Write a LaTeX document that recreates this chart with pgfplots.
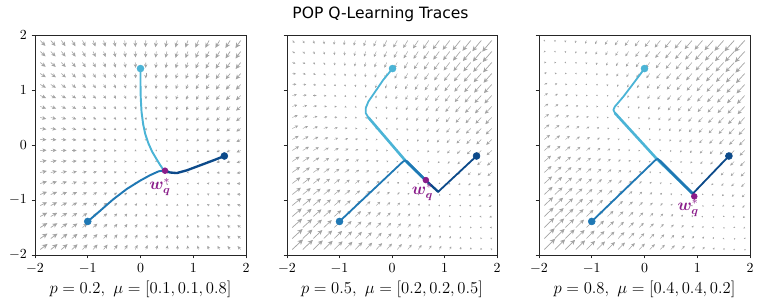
\documentclass[border=0pt]{standalone}
\usepackage{fontspec}
\usepackage{bm}
\usepackage{pgfplots}
\usepackage{pgfplotstable}
\pgfplotsset{compat=1.18}
\usetikzlibrary{arrows.meta}
\newfontfamily\titlefont{DejaVu Sans}
\definecolor{cLight}{HTML}{4BB4D6}
\definecolor{cMid}{HTML}{1F78B4}
\definecolor{cDark}{HTML}{0C4A8A}
\definecolor{cPurple}{HTML}{8A1C8A}

% quiver field: x y, then arrow components (scaled) for the three panels
\pgfplotstableread{
x y u1 v1 u2 v2 u3 v3
-1.9 -1.9 66 48 121 108 166 157
-1.7 -1.9 61 47 114 103 157 149
-1.5 -1.9 56 46 107 98 148 141
-1.3 -1.9 51 45 100 93 139 133
-1.1 -1.9 46 44 93 88 130 125
-0.9 -1.9 41 43 86 83 121 117
-0.7 -1.9 36 42 79 78 112 109
-0.5 -1.9 31 41 72 73 103 101
-0.3 -1.9 26 40 65 68 94 93
-0.1 -1.9 21 39 58 63 85 85
0.1 -1.9 16 38 51 58 76 77
0.3 -1.9 11 37 44 53 67 69
0.5 -1.9 6 36 37 48 58 61
0.7 -1.9 1 35 30 43 49 53
0.9 -1.9 -4 34 23 38 40 45
1.1 -1.9 -9 33 16 33 31 37
1.3 -1.9 -14 32 9 28 22 29
1.5 -1.9 -19 31 2 23 13 21
1.7 -1.9 -24 30 -5 18 4 13
1.9 -1.9 -29 29 -12 13 -5 5
-1.9 -1.7 65 43 116 101 158 148
-1.7 -1.7 60 42 109 96 149 140
-1.5 -1.7 55 41 102 91 140 132
-1.3 -1.7 50 40 95 86 131 124
-1.1 -1.7 45 39 88 81 122 116
-0.9 -1.7 40 38 81 76 113 108
-0.7 -1.7 35 37 74 71 104 100
-0.5 -1.7 30 36 67 66 95 92
-0.3 -1.7 25 35 60 61 86 84
-0.1 -1.7 20 34 53 56 77 76
0.1 -1.7 15 33 46 51 68 68
0.3 -1.7 10 32 39 46 59 60
0.5 -1.7 5 31 32 41 50 52
0.7 -1.7 0 30 25 36 41 44
0.9 -1.7 -5 29 18 31 32 36
1.1 -1.7 -10 28 11 26 23 28
1.3 -1.7 -15 27 4 21 14 20
1.5 -1.7 -20 26 -3 16 5 12
1.7 -1.7 -25 25 -10 11 -4 4
1.9 -1.7 -30 24 -17 6 -13 -4
-1.9 -1.5 64 38 111 94 150 139
-1.7 -1.5 59 37 104 89 141 131
-1.5 -1.5 54 36 97 84 132 123
-1.3 -1.5 49 35 90 79 123 115
-1.1 -1.5 44 34 83 74 114 107
-0.9 -1.5 39 33 76 69 105 99
-0.7 -1.5 34 32 69 64 96 91
-0.5 -1.5 29 31 62 59 87 83
-0.3 -1.5 24 30 55 54 78 75
-0.1 -1.5 19 29 48 49 69 67
0.1 -1.5 14 28 41 44 60 59
0.3 -1.5 9 27 34 39 51 51
0.5 -1.5 4 26 27 34 42 43
0.7 -1.5 -1 25 20 29 33 35
0.9 -1.5 -6 24 13 24 24 27
1.1 -1.5 -11 23 6 19 15 19
1.3 -1.5 -16 22 -1 14 6 11
1.5 -1.5 -21 21 -8 9 -3 3
1.7 -1.5 -26 20 -15 4 -12 -5
1.9 -1.5 -31 19 -22 -1 -21 -13
-1.9 -1.3 63 33 106 87 142 130
-1.7 -1.3 58 32 99 82 133 122
-1.5 -1.3 53 31 92 77 124 114
-1.3 -1.3 48 30 85 72 115 106
-1.1 -1.3 43 29 78 67 106 98
-0.9 -1.3 38 28 71 62 97 90
-0.7 -1.3 33 27 64 57 88 82
-0.5 -1.3 28 26 57 52 79 74
-0.3 -1.3 23 25 50 47 70 66
-0.1 -1.3 18 24 43 42 61 58
0.1 -1.3 13 23 36 37 52 50
0.3 -1.3 8 22 29 32 43 42
0.5 -1.3 3 21 22 27 34 34
0.7 -1.3 -2 20 15 22 25 26
0.9 -1.3 -7 19 8 17 16 18
1.1 -1.3 -12 18 1 12 7 10
1.3 -1.3 -17 17 -6 7 -2 2
1.5 -1.3 -22 16 -13 2 -11 -6
1.7 -1.3 -27 15 -20 -3 -20 -14
1.9 -1.3 -32 14 -27 -8 -29 -22
-1.9 -1.1 62 28 101 80 134 121
-1.7 -1.1 57 27 94 75 125 113
-1.5 -1.1 52 26 87 70 116 105
-1.3 -1.1 47 25 80 65 107 97
-1.1 -1.1 42 24 73 60 98 89
-0.9 -1.1 37 23 66 55 89 81
-0.7 -1.1 32 22 59 50 80 73
-0.5 -1.1 27 21 52 45 71 65
-0.3 -1.1 22 20 45 40 62 57
-0.1 -1.1 17 19 38 35 53 49
0.1 -1.1 12 18 31 30 44 41
0.3 -1.1 7 17 24 25 35 33
0.5 -1.1 2 16 17 20 26 25
0.7 -1.1 -3 15 10 15 17 17
0.9 -1.1 -8 14 3 10 8 9
1.1 -1.1 -13 13 -4 5 -1 1
1.3 -1.1 -18 12 -11 0 -10 -7
1.5 -1.1 -23 11 -18 -5 -19 -15
1.7 -1.1 -28 10 -25 -10 -28 -23
1.9 -1.1 -33 9 -32 -15 -37 -31
-1.9 -0.9 61 23 96 73 126 112
-1.7 -0.9 56 22 89 68 117 104
-1.5 -0.9 51 21 82 63 108 96
-1.3 -0.9 46 20 75 58 99 88
-1.1 -0.9 41 19 68 53 90 80
-0.9 -0.9 36 18 61 48 81 72
-0.7 -0.9 31 17 54 43 72 64
-0.5 -0.9 26 16 47 38 63 56
-0.3 -0.9 21 15 40 33 54 48
-0.1 -0.9 16 14 33 28 45 40
0.1 -0.9 11 13 26 23 36 32
0.3 -0.9 6 12 19 18 27 24
0.5 -0.9 1 11 12 13 18 16
0.7 -0.9 -4 10 5 8 9 8
0.9 -0.9 -9 9 -2 3 0 0
1.1 -0.9 -14 8 -9 -2 -9 -8
1.3 -0.9 -19 7 -16 -7 -18 -16
1.5 -0.9 -24 6 -23 -12 -27 -24
1.7 -0.9 -29 5 -30 -17 -36 -32
1.9 -0.9 -34 4 -37 -22 -45 -40
-1.9 -0.7 60 18 91 66 118 103
-1.7 -0.7 55 17 84 61 109 95
-1.5 -0.7 50 16 77 56 100 87
-1.3 -0.7 45 15 70 51 91 79
-1.1 -0.7 40 14 63 46 82 71
-0.9 -0.7 35 13 56 41 73 63
-0.7 -0.7 30 12 49 36 64 55
-0.5 -0.7 25 11 42 31 55 47
-0.3 -0.7 20 10 35 26 46 39
-0.1 -0.7 15 9 28 21 37 31
0.1 -0.7 10 8 21 16 28 23
0.3 -0.7 5 7 14 11 19 15
0.5 -0.7 0 6 7 6 10 7
0.7 -0.7 -5 5 0 1 1 -1
0.9 -0.7 -10 4 -7 -4 -8 -9
1.1 -0.7 -15 3 -14 -9 -17 -17
1.3 -0.7 -20 2 -21 -14 -26 -25
1.5 -0.7 -25 1 -28 -19 -35 -33
1.7 -0.7 -30 0 -35 -24 -44 -41
1.9 -0.7 -35 -1 -42 -29 -53 -49
-1.9 -0.5 59 13 86 59 110 94
-1.7 -0.5 54 12 79 54 101 86
-1.5 -0.5 49 11 72 49 92 78
-1.3 -0.5 44 10 65 44 83 70
-1.1 -0.5 39 9 58 39 74 62
-0.9 -0.5 34 8 51 34 65 54
-0.7 -0.5 29 7 44 29 56 46
-0.5 -0.5 24 6 37 24 47 38
-0.3 -0.5 19 5 30 19 38 30
-0.1 -0.5 14 4 23 14 29 22
0.1 -0.5 9 3 16 9 20 14
0.3 -0.5 4 2 9 4 11 6
0.5 -0.5 -1 1 2 -1 2 -2
0.7 -0.5 -6 0 -5 -6 -7 -10
0.9 -0.5 -11 -1 -12 -11 -16 -18
1.1 -0.5 -16 -2 -19 -16 -25 -26
1.3 -0.5 -21 -3 -26 -21 -34 -34
1.5 -0.5 -26 -4 -33 -26 -43 -42
1.7 -0.5 -31 -5 -40 -31 -52 -50
1.9 -0.5 -36 -6 -47 -36 -61 -58
-1.9 -0.3 58 8 81 52 102 85
-1.7 -0.3 53 7 74 47 93 77
-1.5 -0.3 48 6 67 42 84 69
-1.3 -0.3 43 5 60 37 75 61
-1.1 -0.3 38 4 53 32 66 53
-0.9 -0.3 33 3 46 27 57 45
-0.7 -0.3 28 2 39 22 48 37
-0.5 -0.3 23 1 32 17 39 29
-0.3 -0.3 18 0 25 12 30 21
-0.1 -0.3 13 -1 18 7 21 13
0.1 -0.3 8 -2 11 2 12 5
0.3 -0.3 3 -3 4 -3 3 -3
0.5 -0.3 -2 -4 -3 -8 -6 -11
0.7 -0.3 -7 -5 -10 -13 -15 -19
0.9 -0.3 -12 -6 -17 -18 -24 -27
1.1 -0.3 -17 -7 -24 -23 -33 -35
1.3 -0.3 -22 -8 -31 -28 -42 -43
1.5 -0.3 -27 -9 -38 -33 -51 -51
1.7 -0.3 -32 -10 -45 -38 -60 -59
1.9 -0.3 -37 -11 -52 -43 -69 -67
-1.9 -0.1 57 3 76 45 94 76
-1.7 -0.1 52 2 69 40 85 68
-1.5 -0.1 47 1 62 35 76 60
-1.3 -0.1 42 0 55 30 67 52
-1.1 -0.1 37 -1 48 25 58 44
-0.9 -0.1 32 -2 41 20 49 36
-0.7 -0.1 27 -3 34 15 40 28
-0.5 -0.1 22 -4 27 10 31 20
-0.3 -0.1 17 -5 20 5 22 12
-0.1 -0.1 12 -6 13 0 13 4
0.1 -0.1 7 -7 6 -5 4 -4
0.3 -0.1 2 -8 -1 -10 -5 -12
0.5 -0.1 -3 -9 -8 -15 -14 -20
0.7 -0.1 -8 -10 -15 -20 -23 -28
0.9 -0.1 -13 -11 -22 -25 -32 -36
1.1 -0.1 -18 -12 -29 -30 -41 -44
1.3 -0.1 -23 -13 -36 -35 -50 -52
1.5 -0.1 -28 -14 -43 -40 -59 -60
1.7 -0.1 -33 -15 -50 -45 -68 -68
1.9 -0.1 -38 -16 -57 -50 -77 -76
-1.9 0.1 56 -2 71 38 86 67
-1.7 0.1 51 -3 64 33 77 59
-1.5 0.1 46 -4 57 28 68 51
-1.3 0.1 41 -5 50 23 59 43
-1.1 0.1 36 -6 43 18 50 35
-0.9 0.1 31 -7 36 13 41 27
-0.7 0.1 26 -8 29 8 32 19
-0.5 0.1 21 -9 22 3 23 11
-0.3 0.1 16 -10 15 -2 14 3
-0.1 0.1 11 -11 8 -7 5 -5
0.1 0.1 6 -12 1 -12 -4 -13
0.3 0.1 1 -13 -6 -17 -13 -21
0.5 0.1 -4 -14 -13 -22 -22 -29
0.7 0.1 -9 -15 -20 -27 -31 -37
0.9 0.1 -14 -16 -27 -32 -40 -45
1.1 0.1 -19 -17 -34 -37 -49 -53
1.3 0.1 -24 -18 -41 -42 -58 -61
1.5 0.1 -29 -19 -48 -47 -67 -69
1.7 0.1 -34 -20 -55 -52 -76 -77
1.9 0.1 -39 -21 -62 -57 -85 -85
-1.9 0.3 55 -7 66 31 78 58
-1.7 0.3 50 -8 59 26 69 50
-1.5 0.3 45 -9 52 21 60 42
-1.3 0.3 40 -10 45 16 51 34
-1.1 0.3 35 -11 38 11 42 26
-0.9 0.3 30 -12 31 6 33 18
-0.7 0.3 25 -13 24 1 24 10
-0.5 0.3 20 -14 17 -4 15 2
-0.3 0.3 15 -15 10 -9 6 -6
-0.1 0.3 10 -16 3 -14 -3 -14
0.1 0.3 5 -17 -4 -19 -12 -22
0.3 0.3 0 -18 -11 -24 -21 -30
0.5 0.3 -5 -19 -18 -29 -30 -38
0.7 0.3 -10 -20 -25 -34 -39 -46
0.9 0.3 -15 -21 -32 -39 -48 -54
1.1 0.3 -20 -22 -39 -44 -57 -62
1.3 0.3 -25 -23 -46 -49 -66 -70
1.5 0.3 -30 -24 -53 -54 -75 -78
1.7 0.3 -35 -25 -60 -59 -84 -86
1.9 0.3 -40 -26 -67 -64 -93 -94
-1.9 0.5 54 -12 61 24 70 49
-1.7 0.5 49 -13 54 19 61 41
-1.5 0.5 44 -14 47 14 52 33
-1.3 0.5 39 -15 40 9 43 25
-1.1 0.5 34 -16 33 4 34 17
-0.9 0.5 29 -17 26 -1 25 9
-0.7 0.5 24 -18 19 -6 16 1
-0.5 0.5 19 -19 12 -11 7 -7
-0.3 0.5 14 -20 5 -16 -2 -15
-0.1 0.5 9 -21 -2 -21 -11 -23
0.1 0.5 4 -22 -9 -26 -20 -31
0.3 0.5 -1 -23 -16 -31 -29 -39
0.5 0.5 -6 -24 -23 -36 -38 -47
0.7 0.5 -11 -25 -30 -41 -47 -55
0.9 0.5 -16 -26 -37 -46 -56 -63
1.1 0.5 -21 -27 -44 -51 -65 -71
1.3 0.5 -26 -28 -51 -56 -74 -79
1.5 0.5 -31 -29 -58 -61 -83 -87
1.7 0.5 -36 -30 -65 -66 -92 -95
1.9 0.5 -41 -31 -72 -71 -101 -103
-1.9 0.7 53 -17 56 17 62 40
-1.7 0.7 48 -18 49 12 53 32
-1.5 0.7 43 -19 42 7 44 24
-1.3 0.7 38 -20 35 2 35 16
-1.1 0.7 33 -21 28 -3 26 8
-0.9 0.7 28 -22 21 -8 17 0
-0.7 0.7 23 -23 14 -13 8 -8
-0.5 0.7 18 -24 7 -18 -1 -16
-0.3 0.7 13 -25 0 -23 -10 -24
-0.1 0.7 8 -26 -7 -28 -19 -32
0.1 0.7 3 -27 -14 -33 -28 -40
0.3 0.7 -2 -28 -21 -38 -37 -48
0.5 0.7 -7 -29 -28 -43 -46 -56
0.7 0.7 -12 -30 -35 -48 -55 -64
0.9 0.7 -17 -31 -42 -53 -64 -72
1.1 0.7 -22 -32 -49 -58 -73 -80
1.3 0.7 -27 -33 -56 -63 -82 -88
1.5 0.7 -32 -34 -63 -68 -91 -96
1.7 0.7 -37 -35 -70 -73 -100 -104
1.9 0.7 -42 -36 -77 -78 -109 -112
-1.9 0.9 52 -22 51 10 54 31
-1.7 0.9 47 -23 44 5 45 23
-1.5 0.9 42 -24 37 0 36 15
-1.3 0.9 37 -25 30 -5 27 7
-1.1 0.9 32 -26 23 -10 18 -1
-0.9 0.9 27 -27 16 -15 9 -9
-0.7 0.9 22 -28 9 -20 0 -17
-0.5 0.9 17 -29 2 -25 -9 -25
-0.3 0.9 12 -30 -5 -30 -18 -33
-0.1 0.9 7 -31 -12 -35 -27 -41
0.1 0.9 2 -32 -19 -40 -36 -49
0.3 0.9 -3 -33 -26 -45 -45 -57
0.5 0.9 -8 -34 -33 -50 -54 -65
0.7 0.9 -13 -35 -40 -55 -63 -73
0.9 0.9 -18 -36 -47 -60 -72 -81
1.1 0.9 -23 -37 -54 -65 -81 -89
1.3 0.9 -28 -38 -61 -70 -90 -97
1.5 0.9 -33 -39 -68 -75 -99 -105
1.7 0.9 -38 -40 -75 -80 -108 -113
1.9 0.9 -43 -41 -82 -85 -117 -121
-1.9 1.1 51 -27 46 3 46 22
-1.7 1.1 46 -28 39 -2 37 14
-1.5 1.1 41 -29 32 -7 28 6
-1.3 1.1 36 -30 25 -12 19 -2
-1.1 1.1 31 -31 18 -17 10 -10
-0.9 1.1 26 -32 11 -22 1 -18
-0.7 1.1 21 -33 4 -27 -8 -26
-0.5 1.1 16 -34 -3 -32 -17 -34
-0.3 1.1 11 -35 -10 -37 -26 -42
-0.1 1.1 6 -36 -17 -42 -35 -50
0.1 1.1 1 -37 -24 -47 -44 -58
0.3 1.1 -4 -38 -31 -52 -53 -66
0.5 1.1 -9 -39 -38 -57 -62 -74
0.7 1.1 -14 -40 -45 -62 -71 -82
0.9 1.1 -19 -41 -52 -67 -80 -90
1.1 1.1 -24 -42 -59 -72 -89 -98
1.3 1.1 -29 -43 -66 -77 -98 -106
1.5 1.1 -34 -44 -73 -82 -107 -114
1.7 1.1 -39 -45 -80 -87 -116 -122
1.9 1.1 -44 -46 -87 -92 -125 -130
-1.9 1.3 50 -32 41 -4 38 13
-1.7 1.3 45 -33 34 -9 29 5
-1.5 1.3 40 -34 27 -14 20 -3
-1.3 1.3 35 -35 20 -19 11 -11
-1.1 1.3 30 -36 13 -24 2 -19
-0.9 1.3 25 -37 6 -29 -7 -27
-0.7 1.3 20 -38 -1 -34 -16 -35
-0.5 1.3 15 -39 -8 -39 -25 -43
-0.3 1.3 10 -40 -15 -44 -34 -51
-0.1 1.3 5 -41 -22 -49 -43 -59
0.1 1.3 0 -42 -29 -54 -52 -67
0.3 1.3 -5 -43 -36 -59 -61 -75
0.5 1.3 -10 -44 -43 -64 -70 -83
0.7 1.3 -15 -45 -50 -69 -79 -91
0.9 1.3 -20 -46 -57 -74 -88 -99
1.1 1.3 -25 -47 -64 -79 -97 -107
1.3 1.3 -30 -48 -71 -84 -106 -115
1.5 1.3 -35 -49 -78 -89 -115 -123
1.7 1.3 -40 -50 -85 -94 -124 -131
1.9 1.3 -45 -51 -92 -99 -133 -139
-1.9 1.5 49 -37 36 -11 30 4
-1.7 1.5 44 -38 29 -16 21 -4
-1.5 1.5 39 -39 22 -21 12 -12
-1.3 1.5 34 -40 15 -26 3 -20
-1.1 1.5 29 -41 8 -31 -6 -28
-0.9 1.5 24 -42 1 -36 -15 -36
-0.7 1.5 19 -43 -6 -41 -24 -44
-0.5 1.5 14 -44 -13 -46 -33 -52
-0.3 1.5 9 -45 -20 -51 -42 -60
-0.1 1.5 4 -46 -27 -56 -51 -68
0.1 1.5 -1 -47 -34 -61 -60 -76
0.3 1.5 -6 -48 -41 -66 -69 -84
0.5 1.5 -11 -49 -48 -71 -78 -92
0.7 1.5 -16 -50 -55 -76 -87 -100
0.9 1.5 -21 -51 -62 -81 -96 -108
1.1 1.5 -26 -52 -69 -86 -105 -116
1.3 1.5 -31 -53 -76 -91 -114 -124
1.5 1.5 -36 -54 -83 -96 -123 -132
1.7 1.5 -41 -55 -90 -101 -132 -140
1.9 1.5 -46 -56 -97 -106 -141 -148
-1.9 1.7 48 -42 31 -18 22 -5
-1.7 1.7 43 -43 24 -23 13 -13
-1.5 1.7 38 -44 17 -28 4 -21
-1.3 1.7 33 -45 10 -33 -5 -29
-1.1 1.7 28 -46 3 -38 -14 -37
-0.9 1.7 23 -47 -4 -43 -23 -45
-0.7 1.7 18 -48 -11 -48 -32 -53
-0.5 1.7 13 -49 -18 -53 -41 -61
-0.3 1.7 8 -50 -25 -58 -50 -69
-0.1 1.7 3 -51 -32 -63 -59 -77
0.1 1.7 -2 -52 -39 -68 -68 -85
0.3 1.7 -7 -53 -46 -73 -77 -93
0.5 1.7 -12 -54 -53 -78 -86 -101
0.7 1.7 -17 -55 -60 -83 -95 -109
0.9 1.7 -22 -56 -67 -88 -104 -117
1.1 1.7 -27 -57 -74 -93 -113 -125
1.3 1.7 -32 -58 -81 -98 -122 -133
1.5 1.7 -37 -59 -88 -103 -131 -141
1.7 1.7 -42 -60 -95 -108 -140 -149
1.9 1.7 -47 -61 -102 -113 -149 -157
-1.9 1.9 47 -47 26 -25 14 -14
-1.7 1.9 42 -48 19 -30 5 -22
-1.5 1.9 37 -49 12 -35 -4 -30
-1.3 1.9 32 -50 5 -40 -13 -38
-1.1 1.9 27 -51 -2 -45 -22 -46
-0.9 1.9 22 -52 -9 -50 -31 -54
-0.7 1.9 17 -53 -16 -55 -40 -62
-0.5 1.9 12 -54 -23 -60 -49 -70
-0.3 1.9 7 -55 -30 -65 -58 -78
-0.1 1.9 2 -56 -37 -70 -67 -86
0.1 1.9 -3 -57 -44 -75 -76 -94
0.3 1.9 -8 -58 -51 -80 -85 -102
0.5 1.9 -13 -59 -58 -85 -94 -110
0.7 1.9 -18 -60 -65 -90 -103 -118
0.9 1.9 -23 -61 -72 -95 -112 -126
1.1 1.9 -28 -62 -79 -100 -121 -134
1.3 1.9 -33 -63 -86 -105 -130 -142
1.5 1.9 -38 -64 -93 -110 -139 -150
1.7 1.9 -43 -65 -100 -115 -148 -158
1.9 1.9 -48 -66 -107 -120 -157 -166
}\field

\pgfplotsset{
  panel/.style={
    scale only axis, width=151.92pt, height=158.4pt,
    xmin=-2, xmax=2, ymin=-2, ymax=2,
    xtick={-2,-1,0,1,2}, ytick={-2,-1,0,1,2},
    tick align=outside, xtick pos=bottom, ytick pos=left,
    major tick length=2.4pt,
    axis line style={line width=0.6pt, black!85},
    every tick/.style={line width=0.6pt, black!85},
    ticklabel style={font=\fontsize{10}{12}\selectfont},
    xlabel style={font=\fontsize{12}{14}\selectfont, at={(axis description cs:0.5,0)}, anchor=base, yshift=-28pt},
    clip=true,
  },
  field/.style n args={3}{
    black!36,
    point meta={veclen(\thisrow{#1}/100,\thisrow{#2}/100)},
    quiver={u=\thisrow{#1}, v=\thisrow{#2}, scale arrows=#3,
      every arrow/.append style={line width={0.15pt+0.4pt*\pgfplotspointmetatransformed/1000},
        -{Stealth[length=0pt 7, width=0pt 6.5, inset=0pt 2]}}},
  },
  traj/.style={line width=1.3pt, line join=round, line cap=round, mark=none},
  start/.style={color=#1, only marks, mark=*, mark size=2.5pt, mark options={solid}},
}

\begin{document}
\begin{tikzpicture}
\path[use as bounding box] (0,0) rectangle (547.92pt,219.6pt);
\node[font=\titlefont\fontsize{11.2}{13}\selectfont, anchor=base] at (273.96pt,206.6pt) {POP Q-Learning Traces};

% ---------------- panel 1 ----------------
\begin{axis}[panel, at={(25.2pt,36pt)}, anchor=south west,
  xlabel={$p=0.2,\ \mu=[0.1,0.1,0.8]$}]
\addplot[field={u1}{v1}{0.0021}] table[x=x,y=y] {\field};
\addplot[cLight, traj, line width=1.4pt] coordinates {(0,1.39) (0,1.1) (0.005,0.85) (0.02,0.6) (0.05,0.38) (0.09,0.2) (0.15,0.03) (0.22,-0.12) (0.3,-0.25) (0.37,-0.36) (0.42,-0.43) (0.45,-0.46)};
\addplot[cMid, traj, line width=1.4pt] coordinates {(-1.0,-1.39) (-0.77,-1.2) (-0.52,-0.99) (-0.26,-0.8) (-0.01,-0.65) (0.18,-0.55) (0.34,-0.48) (0.45,-0.46)};
\addplot[cDark, traj, line width=1.7pt] coordinates {(1.59,-0.2) (1.38,-0.28) (1.13,-0.37) (0.88,-0.46) (0.69,-0.51) (0.56,-0.5) (0.45,-0.46)};
\addplot[start=cLight] coordinates {(0,1.39)};
\addplot[start=cMid] coordinates {(-1.0,-1.39)};
\addplot[start=cDark] coordinates {(1.59,-0.2)};
\addplot[color=cPurple, only marks, mark=*, mark size=2.1pt, mark options={solid}] coordinates {(0.465,-0.467)};
\node[text=cPurple, inner sep=0pt, font=\fontsize{12}{14}\selectfont] at (axis cs:0.37,-0.77) {$\bm{w}^{*}_{\bm{q}}$};
\end{axis}

% ---------------- panel 2 ----------------
\begin{axis}[panel, at={(206.64pt,36pt)}, anchor=south west, width=151.2pt, yticklabels={},
  xlabel={$p=0.5,\ \mu=[0.2,0.2,0.5]$}]
\addplot[field={u2}{v2}{0.0017}] table[x=x,y=y] {\field};
\addplot[cLight, traj] coordinates {(0.01,1.39) (-0.17,1.18) (-0.32,0.97) (-0.45,0.79) (-0.5,0.67) (-0.5,0.58) (-0.45,0.5)};
\addplot[cLight, traj, line width=1.9pt] coordinates {(-0.45,0.5) (0.26,-0.29) (0.64,-0.64)};
\addplot[cMid, traj] coordinates {(-1.0,-1.39) (0.2,-0.31) (0.25,-0.28) (0.3,-0.31)};
\addplot[cMid, traj, line width=1.9pt] coordinates {(0.28,-0.3) (0.64,-0.64)};
\addplot[cDark, traj] coordinates {(1.61,-0.2) (0.88,-0.85)};
\addplot[cDark, traj, line width=1.7pt] coordinates {(0.88,-0.85) (0.64,-0.64)};
\addplot[start=cLight] coordinates {(0.01,1.39)};
\addplot[start=cMid] coordinates {(-1.0,-1.39)};
\addplot[start=cDark] coordinates {(1.61,-0.2)};
\addplot[color=cPurple, only marks, mark=*, mark size=2.1pt, mark options={solid}] coordinates {(0.645,-0.638)};
\node[text=cPurple, inner sep=0pt, font=\fontsize{12}{14}\selectfont] at (axis cs:0.58,-0.86) {$\bm{w}^{*}_{\bm{q}}$};
\end{axis}

% ---------------- panel 3 ----------------
\begin{axis}[panel, at={(388.08pt,36pt)}, anchor=south west, yticklabels={},
  xlabel={$p=0.8,\ \mu=[0.4,0.4,0.2]$}]
\addplot[field={u3}{v3}{0.00125}] table[x=x,y=y] {\field};
\addplot[cLight, traj] coordinates {(0.0,1.39) (-0.21,1.12) (-0.4,0.88) (-0.56,0.7) (-0.59,0.64) (-0.56,0.58)};
\addplot[cLight, traj, line width=1.9pt] coordinates {(-0.56,0.58) (0.24,-0.26) (0.91,-0.88)};
\addplot[cMid, traj] coordinates {(-1.0,-1.39) (0.2,-0.28) (0.25,-0.25) (0.3,-0.3)};
\addplot[cMid, traj, line width=1.9pt] coordinates {(0.28,-0.28) (0.91,-0.88)};
\addplot[cDark, traj] coordinates {(1.6,-0.2) (0.92,-0.88)};
\addplot[start=cLight] coordinates {(0.0,1.39)};
\addplot[start=cMid] coordinates {(-1.0,-1.39)};
\addplot[start=cDark] coordinates {(1.6,-0.2)};
\addplot[color=cPurple, only marks, mark=*, mark size=2.1pt, mark options={solid}] coordinates {(0.944,-0.935)};
\node[text=cPurple, inner sep=0pt, font=\fontsize{12}{14}\selectfont] at (axis cs:0.83,-1.15) {$\bm{w}^{*}_{\bm{q}}$};
\end{axis}
\end{tikzpicture}
\end{document}
